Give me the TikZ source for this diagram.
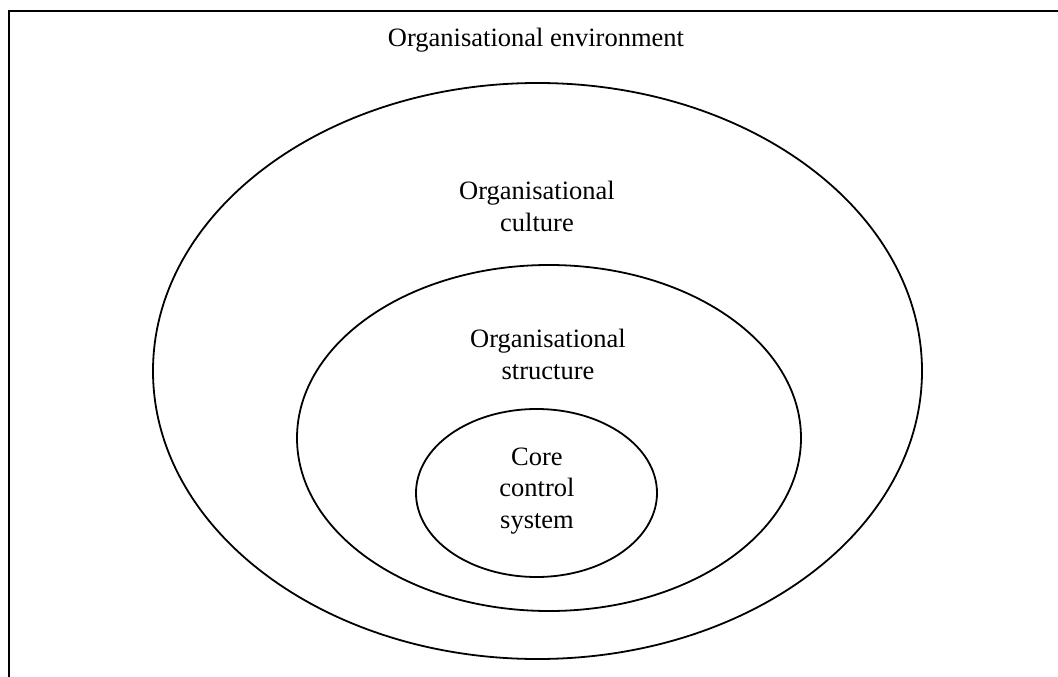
\documentclass[tikz,border=0pt]{standalone}
\usepackage{fontspec}
\setmainfont{Liberation Serif}
\begin{document}
\begin{tikzpicture}[x=1pt,y=-1pt,
  ring/.style={draw=black,line width=1.8pt},
  frame/.style={draw=black,line width=2pt},
  lbl/.style={inner sep=0pt,align=center,anchor=base,font=\fontsize{26.5}{31.3}\selectfont}]
\useasboundingbox (0,0) rectangle (1058,677);
\coordinate (fa) at (9,677);
\coordinate (fb) at (9,11);
\coordinate (fc) at (1058,11);
\draw[frame] (fa) -- (fb) -- (fc);
\draw[ring] (537.5,371) ellipse [x radius=384.5, y radius=288];
\draw[ring] (549,438) ellipse [x radius=252, y radius=173];
\draw[ring] (536.5,493) ellipse [x radius=120.5, y radius=84];
\node[lbl] (env) at (536,47) {Organisational environment};
\node[lbl] (cul) at (537,231) {Organisational\\culture};
\node[lbl] (str) at (548,379) {Organisational\\structure};
\node[lbl] (core) at (537,528) {Core\\control\\system};
\end{tikzpicture}
\end{document}
